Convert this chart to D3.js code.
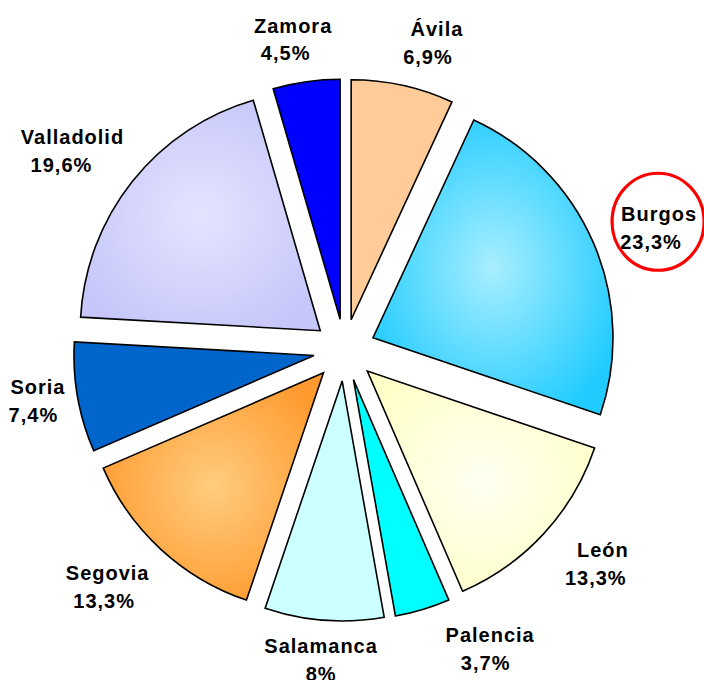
<!DOCTYPE html>
<html>
<head>
<meta charset="utf-8">
<script src="https://cdn.jsdelivr.net/npm/d3@7"></script>
<style>
  html, body { margin: 0; padding: 0; background: #ffffff; }
  svg { display: block; }
  .lbl { font-family: "Liberation Sans", Arial, sans-serif; font-weight: bold; font-size: 20px; letter-spacing: 1px; fill: #000; }
</style>
</head>
<body>
<script>
// Province shares (%) – clockwise from 12 o'clock
const provinces = ["Ávila", "Burgos", "León", "Palencia", "Salamanca", "Segovia", "Soria", "Valladolid", "Zamora"];
const shares = [6.9, 23.3, 13.3, 3.7, 8, 13.3, 7.4, 19.6, 4.5];
const highlighted = "Burgos";

// Fill per slice: edge colour and (optional) centre colour for the glow
const edgeColors = ["#FFCC99", "#1FCBFF", "#FFFFC8", "#00FFFF", "#CCFFFF", "#FF9A2E", "#0066CC", "#C6C6FA", "#0000FF"];
const centerColors = [null, "#A8EEFF", "#FFFFF2", null, null, "#FFCC7E", null, "#E4E4FF", null];

// Label placement: angular nudge (deg) and distance from pie centre
const labelNudge = [4.7, 3.1, -2.1, -8.7, -0.1, 1.5, -0.6, -3.3, -1.5];
const labelDist = [314, 335, 340, 339, 318, 340, 312, 333, 308];
const secondLineShift = [-9, -8, -7, -4.5, 0, -3.5, -4.5, -11, -7.5];

const W = 704, H = 680;
const cx = 344.5, cy = 350;
const R = 240, explode = 31, lineGap = 27.5;

const svg = d3.select("body").append("svg").attr("width", W).attr("height", H);
const defs = svg.append("defs");

const fmt = d3.formatLocale({ decimal: ",", thousands: ".", grouping: [3], currency: ["", "€"] }).format(".3~g");

const pie = d3.pie().sort(null).value(d => d.v).startAngle(0).endAngle(2 * Math.PI);
const data = provinces.map((p, i) => ({ name: p, v: shares[i], i }));
const arcs = pie(data);
const arc = d3.arc().innerRadius(0).outerRadius(R);

// radial glows
arcs.forEach(a => {
  const i = a.data.i;
  if (!centerColors[i]) return;
  const g = defs.append("radialGradient").attr("id", "glow" + i)
    .attr("cx", "50%").attr("cy", "50%").attr("r", "58%");
  g.append("stop").attr("offset", "0%").attr("stop-color", centerColors[i]);
  g.append("stop").attr("offset", "100%").attr("stop-color", edgeColors[i]);
});

const root = svg.append("g").attr("transform", `translate(${cx},${cy})`);

root.selectAll("path.slice").data(arcs).join("path")
  .attr("class", "slice")
  .attr("transform", a => {
    const m = (a.startAngle + a.endAngle) / 2;
    return `translate(${explode * Math.sin(m)},${-explode * Math.cos(m)})`;
  })
  .attr("d", arc)
  .attr("fill", a => centerColors[a.data.i] ? `url(#glow${a.data.i})` : edgeColors[a.data.i])
  .attr("stroke", "#000")
  .attr("stroke-width", 1.6)
  .attr("stroke-linejoin", "miter");

// labels
const labels = root.selectAll("g.label").data(arcs).join("g")
  .attr("class", "label")
  .attr("transform", a => {
    const i = a.data.i;
    const m = (a.startAngle + a.endAngle) / 2 + labelNudge[i] * Math.PI / 180;
    return `translate(${labelDist[i] * Math.sin(m)},${-labelDist[i] * Math.cos(m)})`;
  });

labels.append("text").attr("class", "lbl").attr("text-anchor", "middle")
  .attr("y", -lineGap / 2)
  .text(a => a.data.name);
labels.append("text").attr("class", "lbl").attr("text-anchor", "middle")
  .attr("x", a => secondLineShift[a.data.i])
  .attr("y", lineGap / 2)
  .text(a => fmt(a.data.v) + "%");

// red ring around the highlighted province
labels.filter(a => a.data.name === highlighted)
  .append("ellipse")
  .attr("cx", -1).attr("cy", -13)
  .attr("rx", 46).attr("ry", 48.5)
  .attr("fill", "none")
  .attr("stroke", "#FF0000")
  .attr("stroke-width", 3.2);
</script>
</body>
</html>
